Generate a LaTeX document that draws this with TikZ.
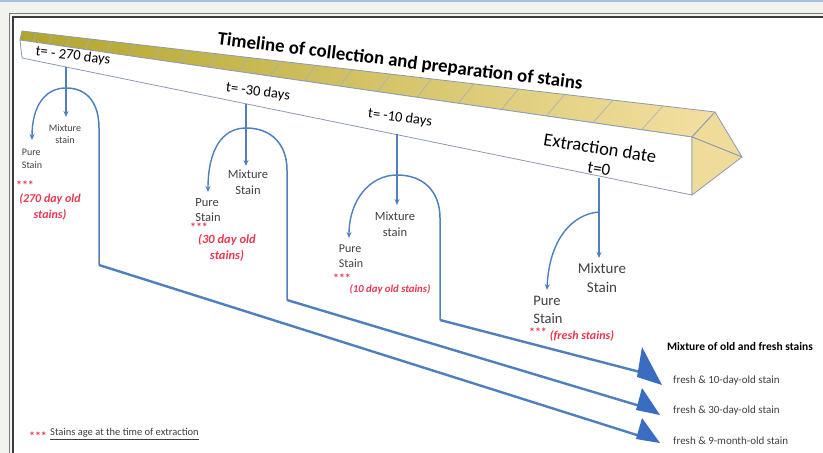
\documentclass[tikz,border=0pt]{standalone}
\usepackage{fontspec}
\setmainfont{Carlito}
\usetikzlibrary{arrows.meta,calc}
\definecolor{bg}{HTML}{F2F2EE}
\definecolor{topblue}{HTML}{A8C0E4}
\definecolor{framedark}{HTML}{3C3C3C}
\definecolor{framegray}{HTML}{7A7A7A}
\definecolor{lineblue}{HTML}{4F7FBF}
\definecolor{headblue}{HTML}{3A6DC2}
\definecolor{edgegray}{HTML}{8C9BB0}
\definecolor{stainred}{HTML}{E8384F}
\definecolor{lblgray}{HTML}{404040}
\definecolor{topL}{HTML}{B3A52A}
\definecolor{topM}{HTML}{E9D27C}
\definecolor{topR}{HTML}{F3E0A2}
\definecolor{endfill}{HTML}{F0DC9A}
\tikzset{
  lbl/.style 2 args={text=lblgray, inner sep=0pt, align=center, font=\fontsize{#1}{#2}\selectfont},
  llbl/.style 2 args={text=lblgray, inner sep=0pt, align=left, font=\fontsize{#1}{#2}\selectfont},
  rlbl/.style 2 args={text=stainred, inner sep=0pt, align=center, font=\fontsize{#1}{#2}\selectfont\bfseries\itshape},
  stars/.style={text=stainred, inner sep=0pt, font=\fontsize{12}{12}\selectfont\bfseries},
  tlbl/.style={text=black, inner sep=0pt, font=\fontsize{14.5}{16}\selectfont, rotate=-7},
  flbl/.style={text=lblgray, inner sep=0pt, anchor=west, font=\fontsize{11}{12}\selectfont},
  thinarrow/.style={draw=lineblue, line width=1.4pt, -{Stealth[length=6pt,width=5pt]}},
  archline/.style={draw=lineblue, line width=1.5pt},
  longline/.style={draw=lineblue, line width=2.4pt},
  headfill/.style={fill=headblue},
  beamedge/.style={draw=edgegray, line width=0.8pt, line join=round},
}
\begin{document}
\begin{tikzpicture}[x=1pt,y=-1pt]
\useasboundingbox (0,0) rectangle (823,453);
% background and frame
\fill[bg] (0,0) rectangle (823,453);
\fill[topblue] (0,0) rectangle (823,2);
\draw[framegray, line width=1.2pt] (9.5,13.5) rectangle (840,470);
\fill[white] (12.7,16.7) rectangle (840,470);
\draw[framedark, line width=1.6pt] (12.7,16.7) rectangle (840,470);

% beam geometry
\coordinate (U0) at (22,31);
\coordinate (U1) at (715,112);
\coordinate (F0) at (20,40);
\coordinate (F1) at (692,137);
\coordinate (B0) at (22,58);
\coordinate (B1) at (692,195);
\coordinate (Tip) at (742,157);
% top face
\shade[left color=topL, middle color=topM, right color=topR] (U0) -- (U1) -- (F1) -- (F0) -- cycle;
\foreach \k in {1,...,20}{
  \pgfmathsetmacro\tt{(14*\k+0.95*\k*(\k-1))/693}
  \draw[draw=edgegray!80, line width=0.6pt] ($(U0)!\tt!(U1)$) -- ($(F0)!\tt!(F1)$);
}
\draw[beamedge] (U0) -- (U1) -- (F1) -- (F0) -- cycle;
% front face
\filldraw[fill=white, beamedge] (F0) -- (F1) -- (B1) -- (B0) -- cycle;
% end
\filldraw[fill=endfill, beamedge] (F1) -- (U1) -- (Tip) -- cycle;
\filldraw[fill=endfill, beamedge] (F1) -- (Tip) -- (B1) -- cycle;

% title and time labels
\node[text=black, inner sep=0pt, font=\fontsize{18.8}{20}\selectfont\bfseries, rotate=-7] (title) at (400,62) {Timeline of collection and preparation of stains};
\node[tlbl] (t270) at (73,56) {t= - 270 days};
\node[tlbl] (t30) at (258,92) {t= -30 days};
\node[tlbl] (t10) at (400,118) {t= -10 days};
\node[text=black, inner sep=0pt, font=\fontsize{18.5}{20}\selectfont, rotate=-9] (extr) at (600,148) {Extraction date};
\node[text=black, inner sep=0pt, font=\fontsize{17}{18}\selectfont, rotate=-9] (t0) at (599,169) {t=0};

% ---------- group 1 ----------
\coordinate (s1) at (66,67);
\coordinate (m1) at (66,117);
\coordinate (a1) at (66,88);
\coordinate (p1) at (32,140);
\coordinate (r1) at (99,265);
\coordinate (e1) at (640,436);
\draw[thinarrow] (s1) -- (m1);
\draw[thinarrow] (a1) .. controls (45,88) and (32,106) .. (p1);
\draw[archline] (a1) .. controls (88,88) and (99,104) .. (99,128) -- (r1);
\draw[longline] (r1) -- (e1);
\fill[headfill] (642,418) -- (660,443) -- (636,439) -- cycle;
\node[lbl={10}{12}] (mix1) at (65,134) {Mixture\\stain};
\node[llbl={10}{13}] (pure1) at (32,159) {Pure\\Stain};
\node[stars] (st1) at (25,185) {***};
\node[rlbl={12}{16}] (age1) at (50,207) {(270 day old\\stains)};

% ---------- group 2 ----------
\coordinate (s2) at (246,104);
\coordinate (m2) at (246,166);
\coordinate (a2) at (246,128);
\coordinate (p2) at (208,192);
\coordinate (r2) at (287,300);
\coordinate (e2) at (640,406);
\draw[thinarrow] (s2) -- (m2);
\draw[thinarrow] (a2) .. controls (222,128) and (208,150) .. (p2);
\draw[archline] (a2) .. controls (272,128) and (287,145) .. (287,170) -- (r2);
\draw[longline] (r2) -- (e2);
\fill[headfill] (642,388) -- (660,415) -- (636,410) -- cycle;
\node[lbl={12.5}{16}] (mix2) at (248,182) {Mixture\\Stain};
\node[llbl={12.5}{15}] (pure2) at (208,210) {Pure\\Stain};
\node[stars] (st2) at (199,227) {***};
\node[rlbl={12.5}{16}] (age2) at (227,248) {(30 day old\\stains)};

% ---------- group 3 ----------
\coordinate (s3) at (397,134);
\coordinate (m3) at (397,205);
\coordinate (a3) at (397,175);
\coordinate (p3) at (349,238);
\coordinate (r3) at (440,320);
\coordinate (e3) at (640,372);
\draw[thinarrow] (s3) -- (m3);
\draw[thinarrow] (a3) .. controls (370,175) and (349,200) .. (p3);
\draw[archline] (a3) .. controls (424,175) and (440,192) .. (440,218) -- (r3);
\draw[longline] (r3) -- (e3);
\fill[headfill] (642,347) -- (662,385) -- (637,377) -- cycle;
\node[lbl={12.5}{16}] (mix3) at (395,224) {Mixture\\stain};
\node[llbl={12}{15}] (pure3) at (351,256) {Pure\\Stain};
\node[stars] (st3) at (342,278) {***};
\node[rlbl={10.7}{12}] (age3) at (390,289) {(10 day old stains)};

% ---------- group 4 ----------
\coordinate (s4) at (599,178);
\coordinate (m4) at (599,258);
\coordinate (a4) at (599,212);
\coordinate (p4) at (547,290);
\draw[thinarrow] (s4) -- (m4);
\draw[thinarrow] (a4) .. controls (572,214) and (549,240) .. (p4);
\node[lbl={15}{19}] (mix4) at (602,278) {Mixture\\Stain};
\node[llbl={14.5}{18}] (pure4) at (548,310) {Pure\\Stain};
\node[stars] (st4) at (538,332) {***};
\node[rlbl={12}{13}] (age4) at (582,336) {(fresh stains)};

% ---------- right labels ----------
\node[text=black, inner sep=0pt, font=\fontsize{11.5}{13}\selectfont\bfseries] (mixall) at (740,347) {Mixture of old and fresh stains};
\node[flbl] (f10) at (673,381) {fresh \& 10-day-old stain};
\node[flbl] (f30) at (673,411) {fresh \& 30-day-old stain};
\node[flbl] (f9) at (673,441) {fresh \& 9-month-old stain};

% ---------- legend ----------
\node[stars] (legst) at (38,436) {***};
\node[text=lblgray, inner sep=0pt, anchor=west, font=\fontsize{10.5}{12}\selectfont] (leg) at (50,434) {\underline{Stains age at the time of extraction}};
\end{tikzpicture}
\end{document}
